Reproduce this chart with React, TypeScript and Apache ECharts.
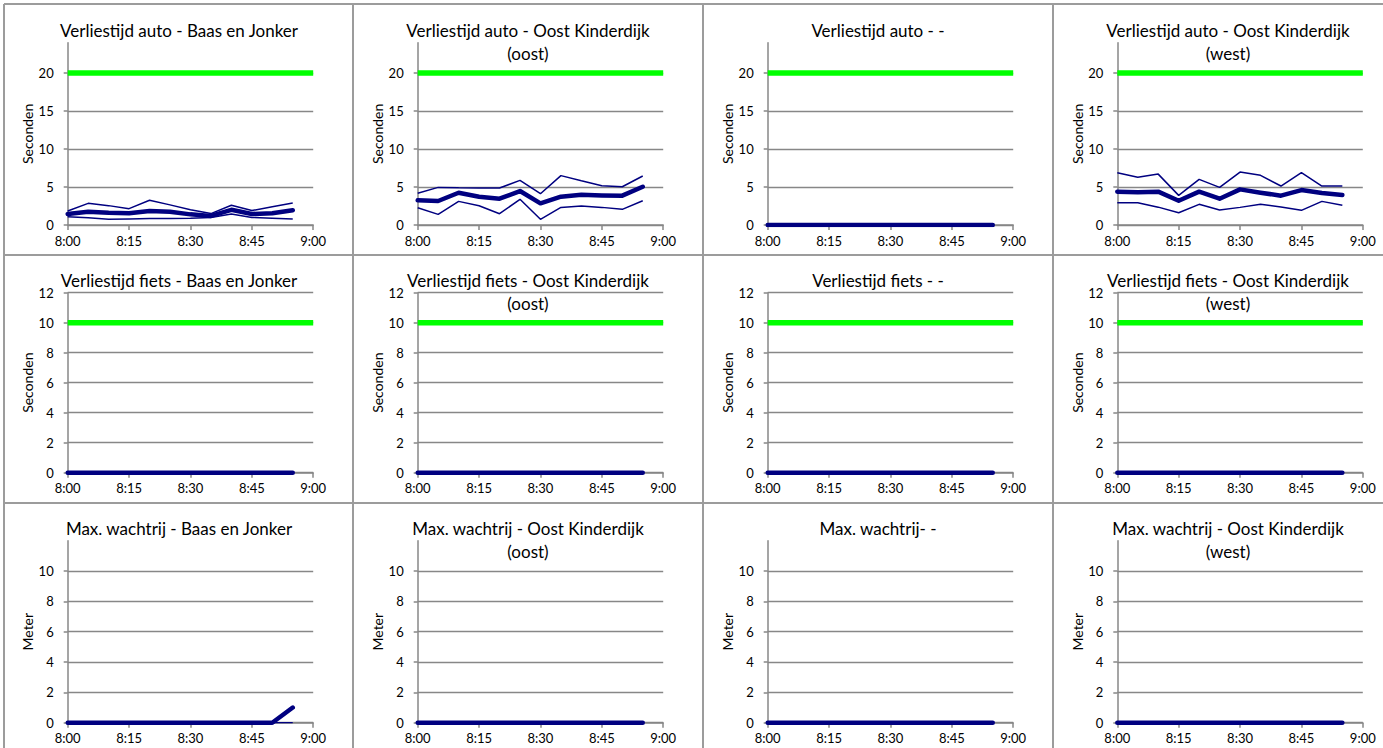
import { useEffect, useRef } from 'react';
import * as echarts from 'echarts';

// ---------- data ----------
const times = ['8:00', '8:05', '8:10', '8:15', '8:20', '8:25', '8:30', '8:35', '8:40', '8:45', '8:50', '8:55'];
const xTickLabels = ['8:00', '8:15', '8:30', '8:45', '9:00'];

const autoTicks = [0, 5, 10, 15, 20];
const fietsTicks = [0, 2, 4, 6, 8, 10, 12];
const meterTicks = [0, 2, 4, 6, 8, 10];

const autoNorm = 20;
const fietsNorm = 10;

// Verliestijd auto - Baas en Jonker
const autoBaasMax = [1.85, 2.85, 2.55, 2.15, 3.25, 2.65, 2.0, 1.5, 2.6, 1.9, 2.4, 2.9];
const autoBaasMean = [1.45, 1.75, 1.6, 1.55, 1.85, 1.75, 1.4, 1.2, 2.0, 1.45, 1.55, 1.95];
const autoBaasMin = [1.1, 0.95, 0.75, 0.8, 0.85, 0.85, 0.9, 1.0, 1.45, 1.0, 0.9, 0.8];

// Verliestijd auto - Oost Kinderdijk (oost)
const autoOostMax = [4.17, 4.95, 4.9, 4.87, 4.87, 5.88, 4.12, 6.5, 5.83, 5.17, 5.04, 6.45];
const autoOostMean = [3.25, 3.16, 4.25, 3.73, 3.46, 4.47, 2.85, 3.73, 3.99, 3.9, 3.86, 5.04];
const autoOostMin = [2.28, 1.4, 3.11, 2.54, 1.49, 3.38, 0.75, 2.32, 2.5, 2.32, 2.06, 3.2];

// Verliestijd auto - -
const autoLeegMax = [0, 0, 0, 0, 0, 0, 0, 0, 0, 0, 0, 0];
const autoLeegMean = [0, 0, 0, 0, 0, 0, 0, 0, 0, 0, 0, 0];
const autoLeegMin = [0, 0, 0, 0, 0, 0, 0, 0, 0, 0, 0, 0];

// Verliestijd auto - Oost Kinderdijk (west)
const autoWestMax = [6.89, 6.3, 6.7, 3.9, 6.0, 4.96, 6.97, 6.54, 5.13, 6.89, 5.13, 5.13];
const autoWestMean = [4.39, 4.3, 4.39, 3.2, 4.39, 3.46, 4.69, 4.25, 3.86, 4.6, 4.2, 3.95];
const autoWestMin = [2.94, 2.94, 2.35, 1.62, 2.72, 1.97, 2.32, 2.72, 2.37, 1.93, 3.11, 2.59];

// Verliestijd fiets (all four locations)
const fietsBaas = [0, 0, 0, 0, 0, 0, 0, 0, 0, 0, 0, 0];
const fietsOost = [0, 0, 0, 0, 0, 0, 0, 0, 0, 0, 0, 0];
const fietsLeeg = [0, 0, 0, 0, 0, 0, 0, 0, 0, 0, 0, 0];
const fietsWest = [0, 0, 0, 0, 0, 0, 0, 0, 0, 0, 0, 0];

// Max. wachtrij
const wachtBaasMax = [0, 0, 0, 0, 0, 0, 0, 0, 0, 0, 0, 1];
const wachtBaasMean = [0, 0, 0, 0, 0, 0, 0, 0, 0, 0, 0, 1];
const wachtBaasMin = [0, 0, 0, 0, 0, 0, 0, 0, 0, 0, 0, 0];
const wachtOost = [0, 0, 0, 0, 0, 0, 0, 0, 0, 0, 0, 0];
const wachtLeeg = [0, 0, 0, 0, 0, 0, 0, 0, 0, 0, 0, 0];
const wachtWest = [0, 0, 0, 0, 0, 0, 0, 0, 0, 0, 0, 0];

// ---------- helpers / layout ----------
const FONT = 'Lato';
const NAVY = '#000080';
const GREEN = '#00ff00';
const AXIS_GRAY = '#878787';
const BORDER_GRAY = '#9c9c9c';

const toMin = (t: string) => {
  const [h, m] = t.split(':').map(Number);
  return (h - 8) * 60 + m;
};
const xTickMins = xTickLabels.map(toMin);

type Panel = {
  title: string;
  unit: string;
  ticks: number[];
  max: number;
  norm: number | null;
  thin: number[][];
  thick: number[];
};

const panels: Panel[] = [
  { title: 'Verliestijd auto - Baas en Jonker', unit: 'Seconden', ticks: autoTicks, max: 24, norm: autoNorm, thin: [autoBaasMax, autoBaasMin], thick: autoBaasMean },
  { title: 'Verliestijd auto - Oost Kinderdijk\n(oost)', unit: 'Seconden', ticks: autoTicks, max: 24, norm: autoNorm, thin: [autoOostMax, autoOostMin], thick: autoOostMean },
  { title: 'Verliestijd auto - -', unit: 'Seconden', ticks: autoTicks, max: 24, norm: autoNorm, thin: [autoLeegMax, autoLeegMin], thick: autoLeegMean },
  { title: 'Verliestijd auto - Oost Kinderdijk\n(west)', unit: 'Seconden', ticks: autoTicks, max: 24, norm: autoNorm, thin: [autoWestMax, autoWestMin], thick: autoWestMean },
  { title: 'Verliestijd fiets - Baas en Jonker', unit: 'Seconden', ticks: fietsTicks, max: 12, norm: fietsNorm, thin: [fietsBaas], thick: fietsBaas },
  { title: 'Verliestijd fiets - Oost Kinderdijk\n(oost)', unit: 'Seconden', ticks: fietsTicks, max: 12, norm: fietsNorm, thin: [fietsOost], thick: fietsOost },
  { title: 'Verliestijd fiets - -', unit: 'Seconden', ticks: fietsTicks, max: 12, norm: fietsNorm, thin: [fietsLeeg], thick: fietsLeeg },
  { title: 'Verliestijd fiets - Oost Kinderdijk\n(west)', unit: 'Seconden', ticks: fietsTicks, max: 12, norm: fietsNorm, thin: [fietsWest], thick: fietsWest },
  { title: 'Max. wachtrij - Baas en Jonker', unit: 'Meter', ticks: meterTicks, max: 12, norm: null, thin: [wachtBaasMax, wachtBaasMin], thick: wachtBaasMean },
  { title: 'Max. wachtrij - Oost Kinderdijk\n(oost)', unit: 'Meter', ticks: meterTicks, max: 12, norm: null, thin: [wachtOost], thick: wachtOost },
  { title: 'Max. wachtrij- -', unit: 'Meter', ticks: meterTicks, max: 12, norm: null, thin: [wachtLeeg], thick: wachtLeeg },
  { title: 'Max. wachtrij - Oost Kinderdijk\n(west)', unit: 'Meter', ticks: meterTicks, max: 12, norm: null, thin: [wachtWest], thick: wachtWest },
];

const cellX = [4, 353, 703, 1053];
const cellY = [4, 255, 503];
const cellW = 350;
const plotLeft = [67.7, 417.7, 767.7, 1117.3];
const plotWidth = 245.5;
const plotTop = [42.7, 292.7, 540.7];
const plotHeight = [182.3, 180, 182];
const titleY = [30, 280, 528];

function buildOption() {
  const grid: any[] = [];
  const xAxis: any[] = [];
  const yAxis: any[] = [];
  const series: any[] = [];
  const graphic: any[] = [];

  panels.forEach((p, i) => {
    const col = i % 4;
    const row = Math.floor(i / 4);
    grid.push({
      left: plotLeft[col],
      top: plotTop[row],
      width: plotWidth,
      height: plotHeight[row],
      containLabel: false,
      outerBoundsMode: 'none',
      show: false,
    });
    xAxis.push({
      gridIndex: i,
      type: 'value',
      min: xTickMins[0],
      max: xTickMins[xTickMins.length - 1],
      interval: 15,
      axisLine: { show: true, onZero: false, lineStyle: { color: AXIS_GRAY, width: 1.5 } },
      axisTick: { show: true, length: 5, lineStyle: { color: AXIS_GRAY, width: 1.5 } },
      axisLabel: {
        fontSize: 13,
        fontFamily: FONT,
        color: '#000',
        margin: 9,
        formatter: (v: number) => {
          const k = xTickMins.indexOf(v);
          return k >= 0 ? xTickLabels[k] : '';
        },
      },
      splitLine: { show: false },
    });
    yAxis.push({
      gridIndex: i,
      type: 'value',
      min: 0,
      max: p.max,
      interval: p.ticks[1] - p.ticks[0],
      name: p.unit,
      nameLocation: 'middle',
      nameGap: 33,
      nameTextStyle: { fontSize: 14, fontFamily: FONT, color: '#000' },
      axisLine: { show: true, lineStyle: { color: AXIS_GRAY, width: 1.5 } },
      axisTick: { show: true, length: 4, customValues: p.ticks, lineStyle: { color: AXIS_GRAY, width: 1.5 } },
      axisLabel: { customValues: p.ticks, fontSize: 13, fontFamily: FONT, color: '#000', margin: 14 },
      splitLine: { show: true, lineStyle: { color: AXIS_GRAY, width: 1.4 } },
    });

    if (p.norm !== null) {
      series.push({
        type: 'line',
        xAxisIndex: i,
        yAxisIndex: i,
        symbol: 'none',
        silent: true,
        data: [
          [xTickMins[0], p.norm],
          [xTickMins[xTickMins.length - 1], p.norm],
        ],
        lineStyle: { color: GREEN, width: 5.5, cap: 'butt' },
        z: 3,
      });
    }
    p.thin.forEach((arr) => {
      series.push({
        type: 'line',
        xAxisIndex: i,
        yAxisIndex: i,
        symbol: 'none',
        silent: true,
        data: times.map((t, k) => [toMin(t), arr[k]]),
        lineStyle: { color: NAVY, width: 1.5 },
        z: 4,
      });
    });
    series.push({
      type: 'line',
      xAxisIndex: i,
      yAxisIndex: i,
      symbol: 'none',
      silent: true,
      data: times.map((t, k) => [toMin(t), p.thick[k]]),
      lineStyle: { color: NAVY, width: 4.5, cap: 'round', join: 'round' },
      z: 5,
    });

    graphic.push({
      type: 'text',
      x: cellX[col] + cellW / 2,
      y: titleY[row] - 11.5,
      silent: true,
      style: {
        text: p.title,
        fill: '#000',
        font: `17px ${FONT}`,
        align: 'center',
        verticalAlign: 'top',
        lineHeight: 23,
      },
      z: 10,
    });
  });

  // cell borders
  cellX.forEach((x) => {
    graphic.push({ type: 'line', silent: true, shape: { x1: x, y1: 4, x2: x, y2: 748 }, style: { stroke: BORDER_GRAY, lineWidth: 2 } });
  });
  cellY.forEach((y) => {
    graphic.push({ type: 'line', silent: true, shape: { x1: 4, y1: y, x2: 1383, y2: y }, style: { stroke: BORDER_GRAY, lineWidth: 2 } });
  });

  return {
    animation: false,
    backgroundColor: '#fff',
    grid,
    xAxis,
    yAxis,
    series,
    graphic,
  };
}

export default function App() {
  const ref = useRef<HTMLDivElement>(null);
  useEffect(() => {
    if (!ref.current) return;
    const chart = echarts.init(ref.current, null, { renderer: 'svg' });
    chart.setOption(buildOption() as any);
    return () => chart.dispose();
  }, []);
  return (
    <div
      ref={ref}
      style={{ position: 'absolute', left: 0, top: 0, width: 1383, height: 748, background: '#fff' }}
    />
  );
}
